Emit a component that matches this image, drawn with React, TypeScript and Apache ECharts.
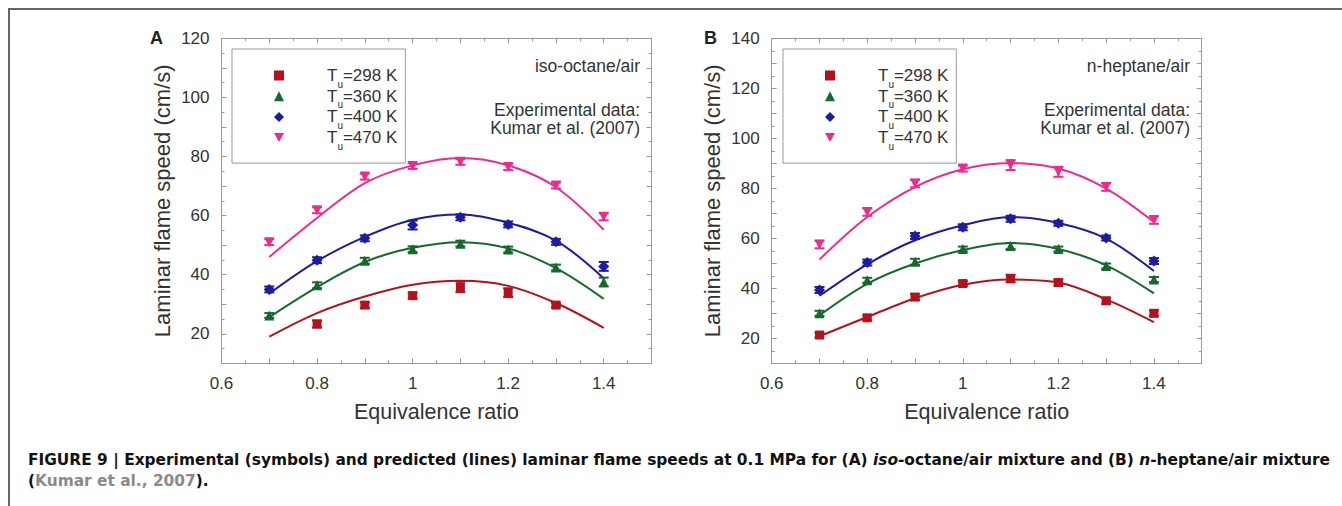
import React, { useEffect, useRef } from "react";
import * as echarts from "echarts";

const FONT = "Liberation Sans, Arial, Helvetica, sans-serif";
const CAPTION_FONT = "DejaVu Sans, Liberation Sans, sans-serif";

// Equivalence ratios
const phiExp = [0.7, 0.8, 0.9, 1.0, 1.1, 1.2, 1.3, 1.4];
const phiExpA298 = [0.8, 0.9, 1.0, 1.1, 1.2, 1.3];
const phiFit = [0.7, 0.8, 0.9, 1.0, 1.1, 1.2, 1.3, 1.4];

// Legend names
const seriesNames = ["T_u=298 K", "T_u=360 K", "T_u=400 K", "T_u=470 K"];
const colors = ["#b3121c", "#17692a", "#1c1c9e", "#ee2a8e"];
const symbols = ["rect", "triangle", "diamond", "triangle"];
const legendIcons = ["rect", "triangle", "diamond", "path://M0,0 L10,0 L5,9 Z"];
const symbolRotates = [0, 0, 0, 180];
const symbolSizes = [9, 10, 11, 10];

// Panel A: iso-octane/air (experimental)
const aExp298 = [23.3, 29.7, 32.9, 35.9, 33.9, 29.7];
const aErr298 = [1.2, 1.0, 1.0, 1.8, 1.5, 0.8];
const aExp360 = [26.2, 36.4, 44.7, 48.6, 50.5, 48.5, 42.4, 37.5];
const aErr360 = [0.8, 1.0, 1.0, 1.0, 1.0, 1.0, 1.0, 1.5];
const aExp400 = [35.0, 44.9, 52.3, 56.8, 59.4, 57.0, 51.1, 42.8];
const aErr400 = [1.0, 1.0, 1.0, 1.5, 1.0, 1.0, 1.0, 1.5];
const aExp470 = [51.0, 61.8, 73.2, 76.8, 78.2, 76.4, 70.2, 59.6];
const aErr470 = [1.0, 1.0, 1.0, 1.0, 1.0, 1.0, 1.0, 1.2];
// Panel A predictions
const aFit298 = [19.0, 27.0, 32.6, 36.6, 37.9, 36.2, 30.4, 22.0];
const aFit360 = [25.6, 35.8, 44.3, 49.1, 51.0, 48.9, 42.2, 31.8];
const aFit400 = [33.6, 44.6, 52.8, 58.6, 60.4, 57.6, 51.5, 38.8];
const aFit470 = [46.0, 59.2, 71.0, 77.0, 79.5, 77.0, 69.6, 55.2];

// Panel B: n-heptane/air (experimental)
const bExp298 = [21.3, 28.2, 36.5, 41.9, 43.9, 42.3, 35.0, 30.0];
const bErr298 = [1.0, 1.0, 1.2, 1.0, 1.5, 1.2, 1.2, 1.2];
const bExp360 = [30.0, 43.2, 50.6, 55.7, 56.9, 55.7, 48.9, 43.5];
const bErr360 = [1.0, 1.0, 1.2, 1.0, 1.2, 1.0, 1.0, 1.0];
const bExp400 = [39.3, 50.3, 60.9, 64.4, 67.8, 66.0, 60.1, 50.9];
const bErr400 = [1.2, 1.2, 1.2, 1.2, 1.2, 1.0, 1.0, 1.2];
const bExp470 = [57.5, 70.5, 81.9, 87.9, 89.3, 86.6, 80.5, 67.3];
const bErr470 = [1.5, 1.5, 1.5, 1.2, 2.0, 2.0, 1.5, 1.5];
// Panel B predictions
const bFit298 = [20.8, 28.5, 36.0, 41.4, 43.5, 42.3, 35.6, 26.5];
const bFit360 = [29.2, 41.8, 49.9, 55.3, 58.1, 55.7, 49.2, 38.0];
const bFit400 = [37.0, 49.6, 59.2, 65.2, 68.5, 66.1, 59.9, 46.9];
const bFit470 = [51.5, 68.5, 80.5, 87.6, 90.1, 87.9, 79.9, 66.5];

const xTickLabels = ["0.6", "0.8", "1", "1.2", "1.4"];

const panelA = {
  exp: [aExp298, aExp360, aExp400, aExp470],
  err: [aErr298, aErr360, aErr400, aErr470],
  phi: [phiExpA298, phiExp, phiExp, phiExp],
  fit: [aFit298, aFit360, aFit400, aFit470],
};
const panelB = {
  exp: [bExp298, bExp360, bExp400, bExp470],
  err: [bErr298, bErr360, bErr400, bErr470],
  phi: [phiExp, phiExp, phiExp, phiExp],
  fit: [bFit298, bFit360, bFit400, bFit470],
};

const AXIS_COLOR = "#9a9a9a";
const TEXT_COLOR = "#333";

function xAxes(gi: number) {
  const fmt = (v: number) => {
    const s = String(Math.round(v * 10) / 10);
    return xTickLabels.indexOf(s) >= 0 ? s : "";
  };
  const base = {
    type: "value",
    gridIndex: gi,
    min: 0.6,
    max: 1.5,
    interval: 0.1,
    axisLine: { show: true, lineStyle: { color: AXIS_COLOR, width: 1 } },
    axisTick: { show: true, inside: true, length: 5, lineStyle: { color: AXIS_COLOR } },
    minorTick: { show: true, splitNumber: 2, length: 3, lineStyle: { color: AXIS_COLOR } },
    splitLine: { show: false },
  };
  return [
    {
      ...base,
      position: "bottom",
      axisLabel: { formatter: fmt, fontSize: 17, color: TEXT_COLOR, margin: 12, fontFamily: FONT, showMaxLabel: false },
      name: "Equivalence ratio",
      nameLocation: "middle",
      nameGap: 38,
      nameTextStyle: { fontSize: 21.5, color: TEXT_COLOR, fontFamily: FONT },
    },
    { ...base, position: "top", axisLabel: { show: false } },
  ];
}

function yAxes(gi: number, ymax: number) {
  const fmt = (v: number) => {
    const r = Math.round(v);
    return r % 20 === 0 ? String(r) : "";
  };
  const base = {
    type: "value",
    gridIndex: gi,
    min: 10,
    max: ymax,
    interval: 10,
    axisLine: { show: true, lineStyle: { color: AXIS_COLOR, width: 1 } },
    axisTick: { show: true, inside: true, length: 5, lineStyle: { color: AXIS_COLOR } },
    minorTick: { show: true, splitNumber: 2, length: 3, lineStyle: { color: AXIS_COLOR } },
    splitLine: { show: false },
  };
  return [
    {
      ...base,
      position: "left",
      axisLabel: { formatter: fmt, fontSize: 17, color: TEXT_COLOR, margin: 12, fontFamily: FONT },
      name: "Laminar flame speed (cm/s)",
      nameLocation: "middle",
      nameGap: 48,
      nameTextStyle: { fontSize: 22, color: TEXT_COLOR, fontFamily: FONT },
    },
    { ...base, position: "right", axisLabel: { show: false } },
  ];
}

function errorBarRender(color: string) {
  return (params: any, api: any) => {
    const x = api.value(0);
    const y = api.value(1);
    const e = api.value(2);
    const top = api.coord([x, y + e]);
    const bot = api.coord([x, y - e]);
    const hw = 5;
    const style = { stroke: color, lineWidth: 2 };
    return {
      type: "group",
      children: [
        { type: "line", shape: { x1: top[0], y1: top[1], x2: bot[0], y2: bot[1] }, style },
        { type: "line", shape: { x1: top[0] - hw, y1: top[1], x2: top[0] + hw, y2: top[1] }, style },
        { type: "line", shape: { x1: bot[0] - hw, y1: bot[1], x2: bot[0] + hw, y2: bot[1] }, style },
      ],
    };
  };
}

function panelSeries(panel: any, xi: number, yi: number) {
  const out: any[] = [];
  for (let k = 0; k < 4; k++) {
    out.push({
      type: "line",
      name: "fit " + seriesNames[k],
      xAxisIndex: xi,
      yAxisIndex: yi,
      data: phiFit.map((p, i) => [p, panel.fit[k][i]]),
      smooth: 0.35,
      symbol: "none",
      showSymbol: false,
      lineStyle: { color: colors[k], width: 2 },
      itemStyle: { color: colors[k] },
      z: 2,
      silent: true,
    });
    out.push({
      type: "custom",
      name: "err " + seriesNames[k],
      xAxisIndex: xi,
      yAxisIndex: yi,
      data: panel.phi[k].map((p: number, i: number) => [p, panel.exp[k][i], panel.err[k][i]]),
      renderItem: errorBarRender(colors[k]),
      encode: { x: 0, y: 1 },
      z: 3,
      silent: true,
    });
    out.push({
      type: "scatter",
      name: seriesNames[k],
      xAxisIndex: xi,
      yAxisIndex: yi,
      data: panel.phi[k].map((p: number, i: number) => [p, panel.exp[k][i]]),
      symbol: symbols[k],
      symbolRotate: symbolRotates[k],
      symbolSize: symbolSizes[k],
      itemStyle: { color: colors[k], opacity: 1 },
      z: 4,
    });
  }
  return out;
}

function legendFor(left: number) {
  return {
    left,
    top: 39,
    orient: "vertical",
    data: seriesNames.map((n, k) => ({ name: n, icon: legendIcons[k], itemStyle: { color: colors[k] } })),
    borderColor: "#999",
    borderWidth: 1,
    borderRadius: 0,
    padding: [18, 8, 12, 42],
    itemGap: -1.3,
    itemWidth: 10,
    itemHeight: 10,
    selectedMode: false,
    formatter: (name: string) => "T{sub|u}" + name.slice(3),
    textStyle: {
      fontSize: 17,
      color: TEXT_COLOR,
      fontFamily: FONT,
      padding: [0, 0, 0, 38],
      rich: {
        sub: { fontSize: 10, fontFamily: FONT, color: TEXT_COLOR, verticalAlign: "bottom", padding: [0, 0, -5, 0] },
      },
    },
  };
}

function annot(x: number, title: string) {
  const st = (text: string) => ({ text, align: "right", verticalAlign: "middle", fontSize: 17.5, fontFamily: FONT, fill: TEXT_COLOR });
  return [
    { type: "text", x, y: 56, style: st(title) },
    { type: "text", x, y: 100, style: st("Experimental data:") },
    { type: "text", x, y: 118, style: st("Kumar et al. (2007)") },
  ];
}

export default function App() {
  const ref = useRef<HTMLDivElement>(null);
  useEffect(() => {
    if (!ref.current) return;
    const chart = echarts.init(ref.current, undefined, { renderer: "svg" });
    const option: any = {
      animation: false,
      backgroundColor: "#fff",
      textStyle: { fontFamily: FONT },
      grid: [
        { left: 211.5, top: 28.3, width: 430, height: 325 },
        { left: 761.7, top: 28.3, width: 430, height: 325 },
      ],
      xAxis: [...xAxes(0), ...xAxes(1)],
      yAxis: [...yAxes(0, 120), ...yAxes(1, 140)],
      legend: [legendFor(222), legendFor(773)],
      series: [...panelSeries(panelA, 0, 0), ...panelSeries(panelB, 2, 2)],
      graphic: [
        { type: "text", x: 140, y: 28, style: { text: "A", align: "left", verticalAlign: "middle", fontSize: 18, fontWeight: "bold", fontFamily: FONT, fill: "#222" } },
        { type: "text", x: 694, y: 28, style: { text: "B", align: "left", verticalAlign: "middle", fontSize: 18, fontWeight: "bold", fontFamily: FONT, fill: "#222" } },
        ...annot(630, "iso-octane/air"),
        ...annot(1180, "n-heptane/air"),
        {
          type: "text",
          x: 18,
          y: 450,
          style: {
            text: "FIGURE 9 | Experimental (symbols) and predicted (lines) laminar flame speeds at 0.1 MPa for (A) {i|iso}-octane/air mixture and (B) {i|n}-heptane/air mixture",
            verticalAlign: "middle",
            fontSize: 15.4,
            fontWeight: "bold",
            fontFamily: CAPTION_FONT,
            fill: "#111",
            rich: { i: { fontSize: 15.4, fontWeight: "bold", fontStyle: "italic", fontFamily: CAPTION_FONT, fill: "#111" } },
          },
        },
        {
          type: "text",
          x: 18,
          y: 471,
          style: {
            text: "({g|Kumar et al., 2007}).",
            verticalAlign: "middle",
            fontSize: 15.4,
            fontWeight: "bold",
            fontFamily: CAPTION_FONT,
            fill: "#111",
            rich: { g: { fontSize: 15.4, fontWeight: "bold", fontFamily: CAPTION_FONT, fill: "#8a8a8a" } },
          },
        },
      ],
    };
    chart.setOption(option);
    return () => chart.dispose();
  }, []);
  return (
    <div
      style={{
        position: "fixed",
        left: 8,
        top: 8,
        width: 1334,
        height: 498,
        borderTop: "2px solid #666",
        borderLeft: "2px solid #666",
        background: "#fff",
      }}
    >
      <div ref={ref} style={{ width: 1332, height: 496 }} />
    </div>
  );
}
